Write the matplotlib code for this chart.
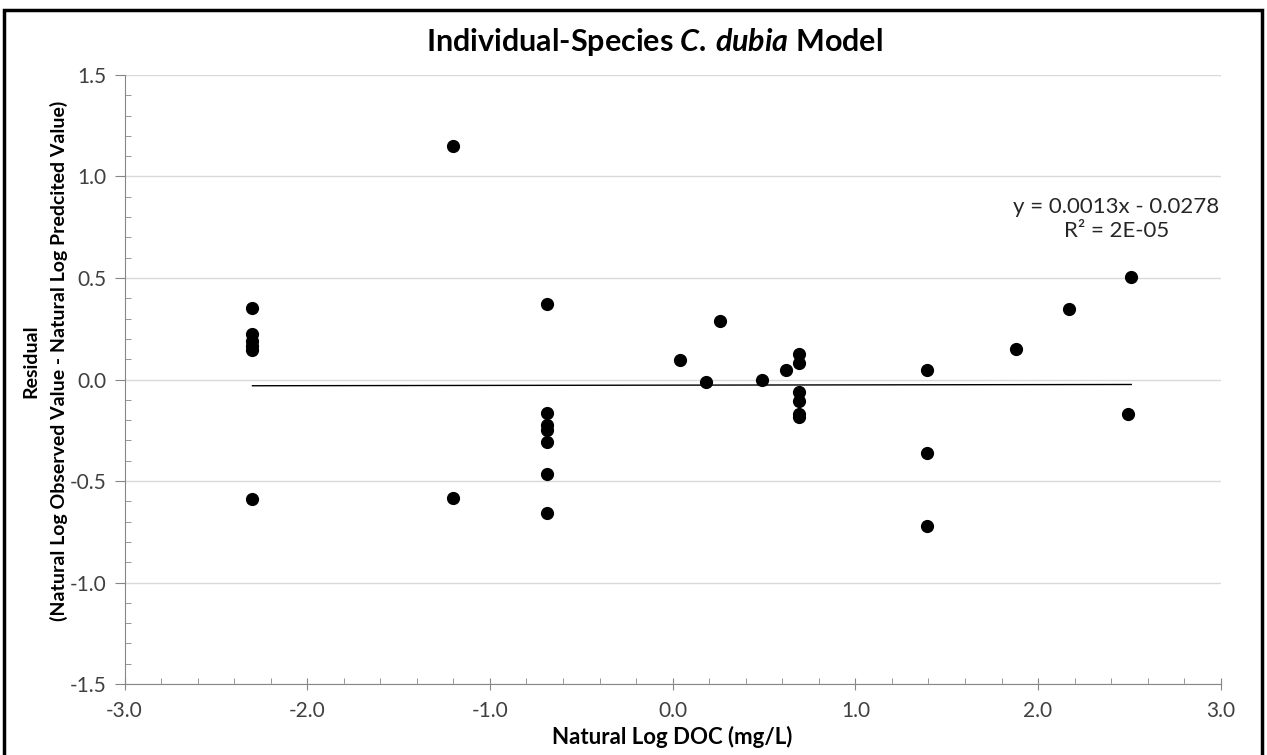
import matplotlib
matplotlib.use('Agg')
import matplotlib.pyplot as plt
from matplotlib.patches import Rectangle
from matplotlib.ticker import MultipleLocator

plt.rcParams.update({
    'font.family': ['Lato', 'DejaVu Sans'],
    'font.size': 12,
    'mathtext.fontset': 'custom',
    'mathtext.rm': 'Lato:bold',
    'mathtext.it': 'Lato:bold:italic',
    'mathtext.bf': 'Lato:bold',
})

# natural log DOC (mg/L) and residuals
ln_doc = [-2.30, -2.30, -2.30, -2.30, -2.30, -2.30,
          -1.20, -1.20,
          -0.69, -0.69, -0.69, -0.69, -0.69, -0.69, -0.69,
          0.04, 0.18, 0.26, 0.49, 0.62,
          0.69, 0.69, 0.69, 0.69, 0.69, 0.69,
          1.39, 1.39, 1.39,
          1.88, 2.17, 2.49, 2.51]
residual = [0.352, 0.225, 0.19, 0.165, 0.145, -0.590,
            1.149, -0.584,
            0.370, -0.164, -0.225, -0.249, -0.307, -0.467, -0.659,
            0.095, -0.012, 0.287, -0.003, 0.049,
            0.128, 0.079, -0.061, -0.107, -0.168, -0.183,
            0.049, -0.361, -0.722,
            0.148, 0.349, -0.172, 0.505]

slope = 0.0013
intercept = -0.0278
trend_x = [min(ln_doc), max(ln_doc)]
trend_y = [slope * x + intercept for x in trend_x]

fig = plt.figure(figsize=(12.67, 7.55), dpi=100)
ax = fig.add_axes([0.0983, 0.094, 0.8652, 0.8067])

ax.scatter(ln_doc, residual, s=72, color='black', zorder=3)
ax.plot(trend_x, trend_y, color='black', lw=1.0, zorder=2)

ax.set_xlim(-3.0, 3.0)
ax.set_ylim(-1.5, 1.5)
ax.xaxis.set_major_locator(MultipleLocator(1.0))
ax.xaxis.set_minor_locator(MultipleLocator(0.2))
ax.yaxis.set_major_locator(MultipleLocator(0.5))
ax.yaxis.set_minor_locator(MultipleLocator(0.1))
ax.xaxis.set_major_formatter(lambda v, p: f'{v:.1f}')
ax.yaxis.set_major_formatter(lambda v, p: f'{v:.1f}')

ax.grid(axis='y', which='major', color='#d9d9d9', lw=1.0)
ax.set_axisbelow(True)
for side in ['top', 'right']:
    ax.spines[side].set_visible(False)
for side in ['left', 'bottom']:
    ax.spines[side].set_color('#868686')

ax.tick_params(axis='x', which='major', direction='inout', length=8, color='#868686',
               labelsize=15, labelcolor='#404040', pad=8)
ax.tick_params(axis='x', which='minor', direction='in', length=4, color='#868686')
ax.tick_params(axis='y', which='major', direction='out', length=7, color='#868686',
               labelsize=15, labelcolor='#404040', pad=6)
ax.tick_params(axis='y', which='minor', direction='in', length=4, color='#868686')

ax.set_xlabel('Natural Log DOC (mg/L)', fontsize=16, fontweight='bold', labelpad=4)
ax.set_ylabel('Residual\n(Natural Log Observed Value - Natural Log Predcited Value)',
              fontsize=14, fontweight='bold', linespacing=1.7)
ax.yaxis.set_label_coords(-0.052, 0.53)

fig.text(0.5165, 0.944, 'Individual-Species $C.\\,dubia$ Model', ha='center', va='center',
         fontsize=22, fontweight='bold')

ax.text(2.43, 0.79, 'y = 0.0013x - 0.0278\nR² = 2E-05', ha='center', va='center',
        fontsize=16, color='#262626', linespacing=1.25)

fig.patches.append(Rectangle((0.003, -0.01), 0.993, 0.997, transform=fig.transFigure,
                             fill=False, edgecolor='black', lw=2.5))

fig.savefig('out.png', dpi=100)
